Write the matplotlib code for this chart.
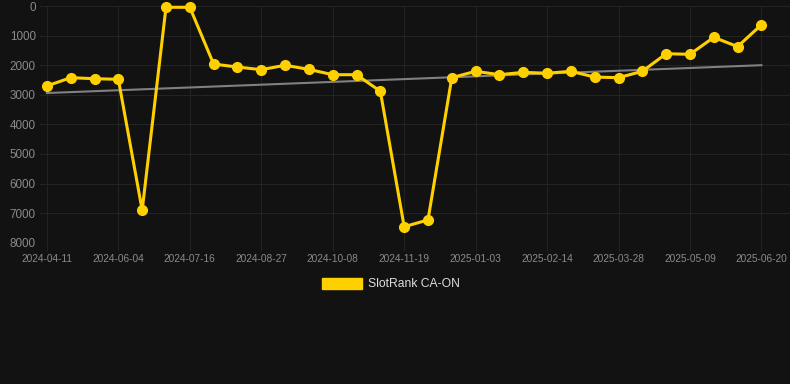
import matplotlib
matplotlib.use("Agg")
import matplotlib.pyplot as plt
from matplotlib.patches import Patch
import numpy as np

dates = ["2024-04-11", "2024-04-29", "2024-05-17", "2024-06-04", "2024-06-18", "2024-07-02",
         "2024-07-16", "2024-07-30", "2024-08-13", "2024-08-27", "2024-09-10", "2024-09-24",
         "2024-10-08", "2024-10-22", "2024-11-05", "2024-11-19", "2024-12-03", "2024-12-17",
         "2025-01-03", "2025-01-17", "2025-01-31", "2025-02-14", "2025-02-28", "2025-03-14",
         "2025-03-28", "2025-04-11", "2025-04-25", "2025-05-09", "2025-05-23", "2025-06-06",
         "2025-06-20"]
ranks = [2700, 2420, 2455, 2475, 6900, 40, 40, 1960, 2060, 2150, 2000, 2140,
         2320, 2320, 2880, 7460, 7230, 2420, 2205, 2320, 2240, 2270, 2205, 2400,
         2420, 2205, 1610, 1630, 1056, 1370, 630]
series_name = "SlotRank CA-ON"
y_ticks = [0, 1000, 2000, 3000, 4000, 5000, 6000, 7000, 8000]

plt.rcParams['font.family'] = ['Liberation Sans', 'DejaVu Sans']
bg = '#121212'
grid_c = '#232323'
tick_c = '#8a8a8a'
yellow = '#FFD000'

fig = plt.figure(figsize=(7.9, 3.84), dpi=100, facecolor=bg)
ax = fig.add_axes([40/790, 1 - 242.7/384, 750/790, (242.7 - 6.1)/384])
ax.set_facecolor(bg)

x = np.arange(len(dates))
coef = np.polyfit(x, ranks, 1)
trend = np.polyval(coef, x)
ax.plot(x, trend, color='#808080', lw=1.5, zorder=2)
ax.plot(x, ranks, color=yellow, lw=2.2, marker='o', markersize=7,
        markerfacecolor=yellow, markeredgecolor=yellow, zorder=3, clip_on=False)

ax.set_xlim(-0.29, 31.2)
ax.set_ylim(8000, 0)
ax.set_yticks(y_ticks)
ax.set_yticklabels([str(v) for v in y_ticks])
tick_idx = list(range(0, len(dates), 3))
ax.set_xticks(tick_idx)
ax.set_xticklabels([dates[i] for i in tick_idx])

ax.grid(True, color=grid_c, lw=0.8)
ax.set_axisbelow(True)
for s in ax.spines.values():
    s.set_visible(False)
ax.tick_params(axis='y', length=0, pad=3, labelsize=8.4, labelcolor=tick_c)
ax.tick_params(axis='x', length=6, width=0.8, color=grid_c, pad=2, labelsize=7.3, labelcolor=tick_c)

handle = Patch(facecolor=yellow, edgecolor=yellow)
leg = fig.legend([handle], [series_name], loc='center', bbox_to_anchor=(391/790, 1 - 284/384),
                 frameon=False, fontsize=8.7, handlelength=3.3, handleheight=1.0,
                 handletextpad=0.5, labelcolor='#dddddd')

fig.savefig("out.png", dpi=100, facecolor=bg)
